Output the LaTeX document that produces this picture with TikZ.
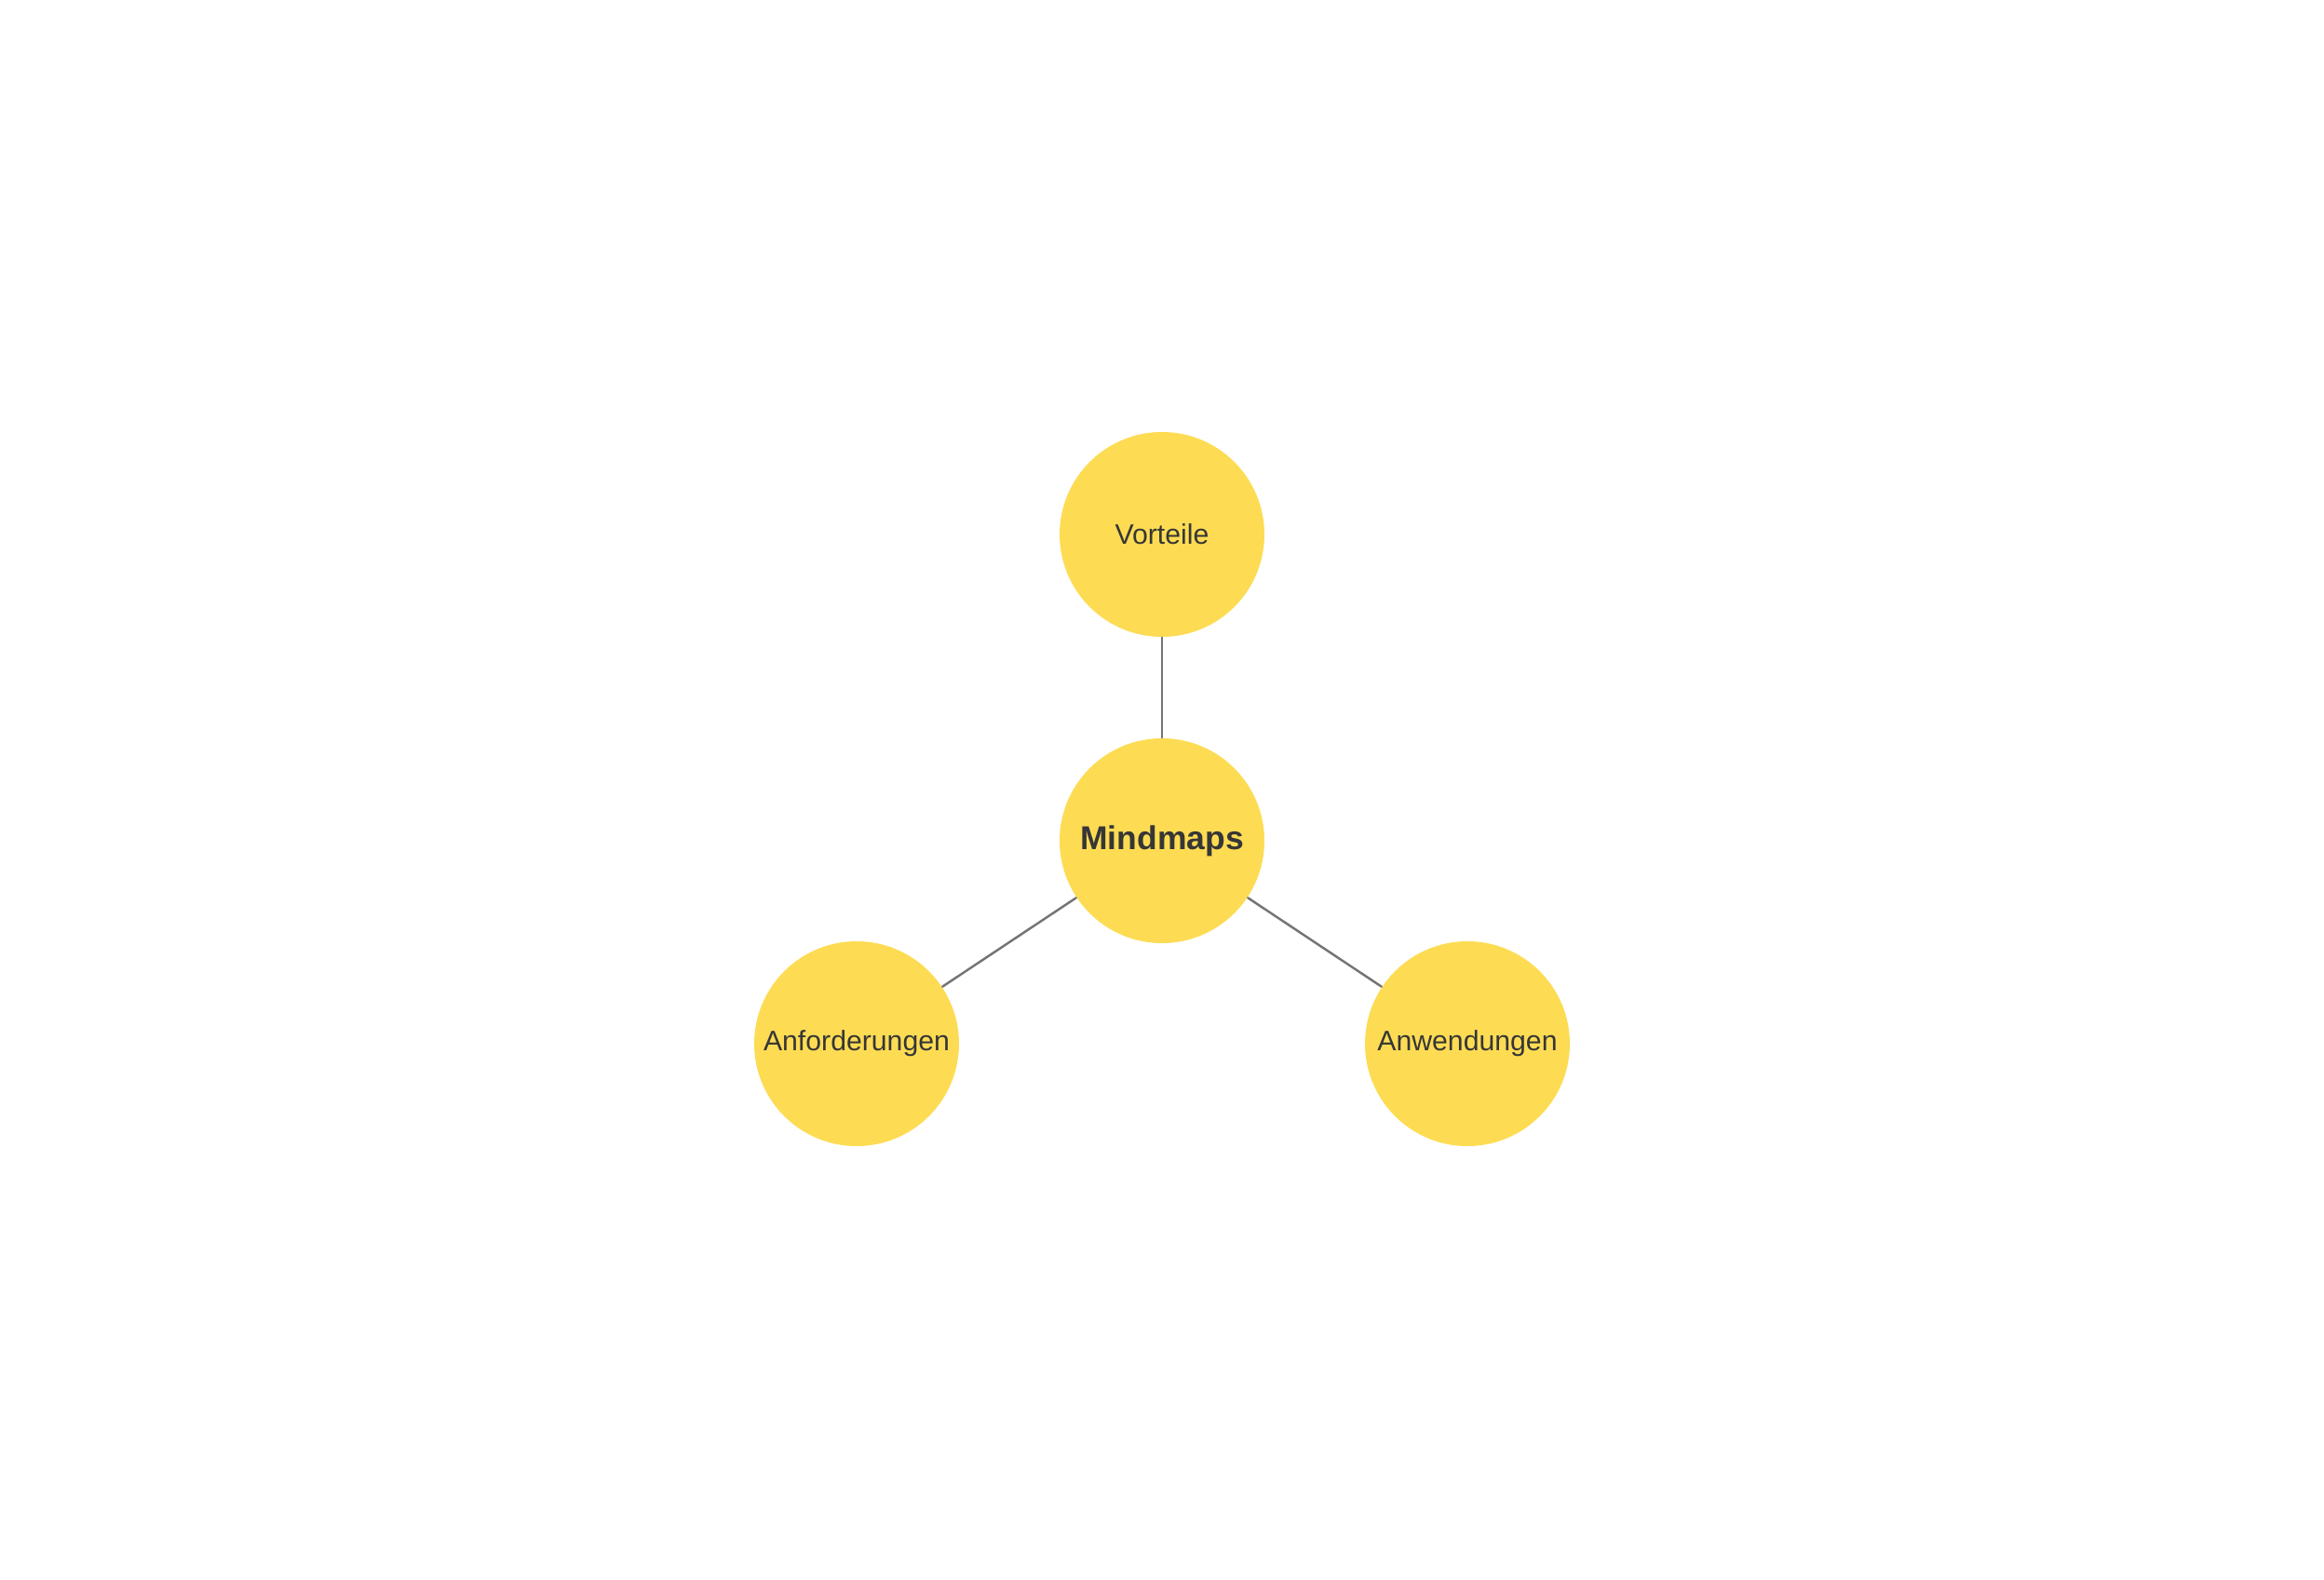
\documentclass[tikz,border=0pt]{standalone}
\usepackage{fontspec}
\setmainfont{Liberation Sans}
\definecolor{topicyellow}{HTML}{FDDC54}
\definecolor{topictext}{HTML}{363636}
\definecolor{linkgray}{HTML}{747474}
\begin{document}
\begin{tikzpicture}[line join = round, line cap = round,
  topic/.style={circle, fill=topicyellow, draw=none, minimum size=2.2cm, inner sep=0pt,
    text=topictext, font=\fontsize{8.6}{10}\selectfont},
  link/.style={draw=linkgray, line width=0.7pt}]

\useasboundingbox (0,0) rectangle (24.96,16.96);
\pgfmathsetmacro{\cx}{12.48};
\node [topic, font=\fontsize{10.1}{12}\selectfont\bfseries] (mind) at (\cx,7.93) {Mindmaps};
\node [topic] (vort) at (\cx,11.22) {Vorteile};
\node [topic] (anf) at (9.20,5.75) {Anforderungen};
\node [topic] (anw) at (15.76,5.75) {Anwendungen};

\foreach \i in {vort,anf,anw}
 \draw[link] (mind)--(\i);
\end{tikzpicture}
\end{document}
